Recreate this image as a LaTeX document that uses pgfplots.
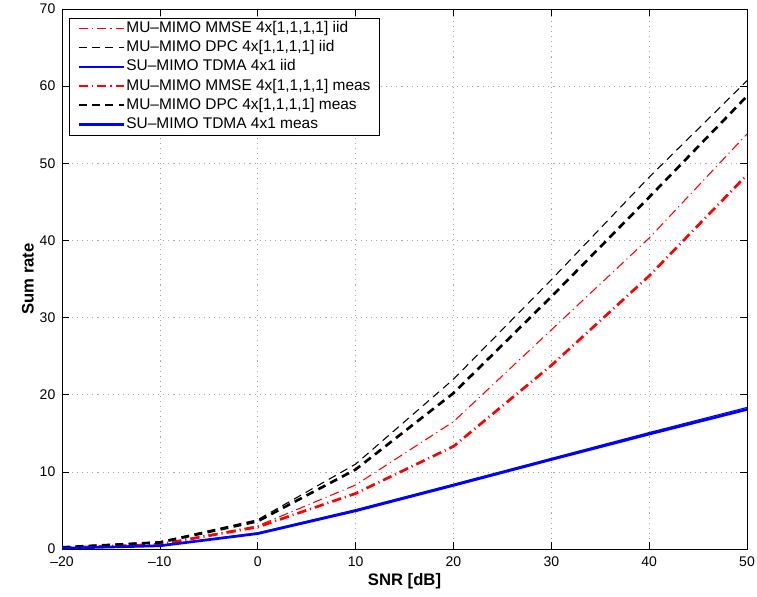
\documentclass[border=0pt]{standalone}
\usepackage{fontspec}
\setmainfont{Liberation Sans}
\usepackage{pgfplots}
\pgfplotsset{compat=1.18}

% MATLAB-like line styles
\tikzset{
  mdash/.style={dash pattern=on 6pt off 4pt},
  mdashdot/.style={dash pattern=on 7pt off 3pt on 0.8pt off 3pt},
}

\begin{document}
\begin{tikzpicture}
\begin{axis}[
    scale only axis,
    width=513.75pt,
    height=405pt,
    xmin=-20, xmax=50,
    ymin=0, ymax=70,
    xtick={-20,-10,0,10,20,30,40,50},
    xticklabels={–20,–10,0,10,20,30,40,50},
    ytick={0,10,20,30,40,50,60,70},
    yticklabels={0,10,20,30,40,50,60,70},
    tick align=inside,
    major tick length=5pt,
    tick style={black, line width=0.5pt},
    axis line style={line width=0.6pt},
    ticklabel style={font=\fontsize{10.5}{12}\selectfont},
    y tick label style={xshift=-1.5pt},
    x tick label style={yshift=-2pt},
    grid=major,
    major grid style={gray!70, line width=0.5pt, dash pattern=on 0.8pt off 3pt},
    xlabel={\bfseries SNR [dB]},
    ylabel={\bfseries Sum rate},
    label style={font=\fontsize{12.5}{14}\selectfont},
    xlabel style={at={(axis description cs:0.5,0)}, anchor=center, yshift=-24pt},
    ylabel style={at={(axis description cs:0,0.5)}, anchor=center, yshift=25.5pt},
    legend cell align=left,
    legend style={
        at={(rel axis cs:0.0102,0.984)}, anchor=north west,
        font=\fontsize{11.6}{13}\selectfont,
        draw=black, line width=0.6pt, fill=white,
        inner xsep=6pt, inner ysep=1.5pt,
        row sep=1.1pt,
        nodes={inner sep=1pt, text height=8.6pt, text depth=2.6pt},
    },
    legend image code/.code={
        \draw[#1] (0cm,0cm) -- (33.75pt,0cm);
    },
]
% thin: iid channels
\addplot[color=red, line width=0.8pt, mdashdot] coordinates {
(-20,0.15) (-10,0.65) (0,3.0) (10,8.3) (20,16.5) (30,28.4) (40,40.3) (50,53.8)
};
\addlegendentry{MU–MIMO MMSE 4x[1,1,1,1] iid}
\addplot[color=black, line width=0.8pt, mdash] coordinates {
(-20,0.25) (-10,0.95) (0,3.8) (10,11.0) (20,22.0) (30,34.9) (40,48.2) (50,60.7)
};
\addlegendentry{MU–MIMO DPC 4x[1,1,1,1] iid}
\addplot[color=blue, line width=0.8pt] coordinates {
(-20,0.1) (-10,0.45) (0,2.1) (10,5.1) (20,8.4) (30,11.75) (40,15.1) (50,18.35)
};
\addlegendentry{SU–MIMO TDMA 4x1 iid}
% thick: measured channels
\addplot[color=red, line width=2pt, mdashdot] coordinates {
(-20,0.15) (-10,0.6) (0,2.85) (10,7.2) (20,13.3) (30,23.8) (40,35.4) (50,48.5)
};
\addlegendentry{MU–MIMO MMSE 4x[1,1,1,1] meas}
\addplot[color=black, line width=2pt, mdash] coordinates {
(-20,0.22) (-10,0.85) (0,3.6) (10,10.3) (20,20.2) (30,32.7) (40,45.6) (50,58.7)
};
\addlegendentry{MU–MIMO DPC 4x[1,1,1,1] meas}
\addplot[color=blue, line width=2pt] coordinates {
(-20,0.1) (-10,0.42) (0,2.0) (10,4.95) (20,8.25) (30,11.6) (40,14.9) (50,18.1)
};
\addlegendentry{SU–MIMO TDMA 4x1 meas}
\end{axis}
% fix the picture's margins to those of the reference
\pgfresetboundingbox
\path ([shift={(-46.5pt,-35.25pt)}]current axis.south west)
  rectangle ([shift={(7.5pt,6.75pt)}]current axis.north east);
\end{tikzpicture}
\end{document}
